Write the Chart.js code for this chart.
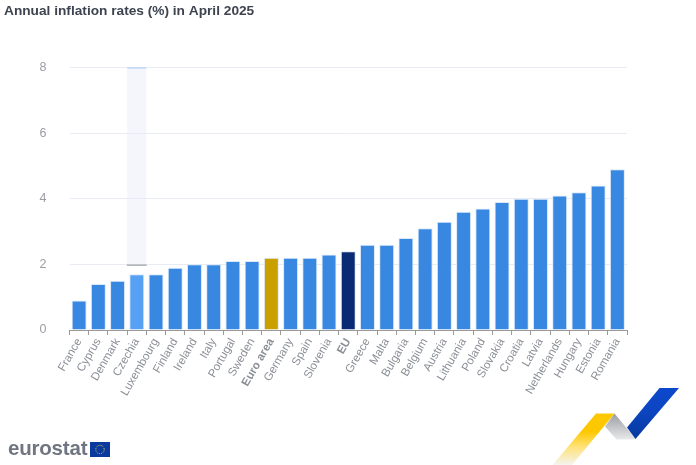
<!DOCTYPE html>
<html>
<head>
<meta charset="utf-8">
<title>Annual inflation rates</title>
<script src="https://cdn.jsdelivr.net/npm/chart.js@4"></script>
<style>
  html, body { margin: 0; padding: 0; background: #fff; overflow: hidden; }
  #wrap { position: relative; width: 696px; height: 465px; filter: blur(0.35px); }
  #wrap canvas { position: absolute; left: 0; top: 0; }
  #brand { position: absolute; left: 8px; top: 434px; font: bold 20.5px "Liberation Sans", sans-serif; letter-spacing: -0.2px; color: #6f7682; line-height: 28px; }
  svg { position: absolute; left: 0; top: 0; }
</style>
</head>
<body>
<div id="wrap">
  <canvas id="chart" width="696" height="465"></canvas>
  <div id="brand">eurostat</div>
  <svg width="696" height="465" viewBox="0 0 696 465">
    <defs>
      <linearGradient id="gold" x1="0" y1="1" x2="0" y2="0">
        <stop offset="0" stop-color="#f4f4f0"/>
        <stop offset="0.35" stop-color="#ffe27a"/>
        <stop offset="0.65" stop-color="#fdc800"/>
        <stop offset="1" stop-color="#fdc800"/>
      </linearGradient>
      <linearGradient id="steel" x1="0" y1="0" x2="0" y2="1">
        <stop offset="0" stop-color="#9a9da3"/>
        <stop offset="1" stop-color="#e8e9ea"/>
      </linearGradient>
      <linearGradient id="blue" x1="0" y1="1" x2="0" y2="0">
        <stop offset="0" stop-color="#053a9c"/>
        <stop offset="0.6" stop-color="#0c46c4"/>
        <stop offset="1" stop-color="#0c48cc"/>
      </linearGradient>
    </defs>
    <polygon points="596,413.5 614.5,413.5 572,465 552.5,465" fill="url(#gold)"/>
    <polygon points="614.5,413.5 636,439.5 616.5,439.5 605,426.5" fill="url(#steel)"/>
    <polygon points="659.5,388 679,388 635.5,439 627,427.5" fill="url(#blue)"/>
    <rect x="90" y="442" width="20" height="15" fill="#0b3a9e"/>
    <circle cx="100" cy="449.5" r="4.2" fill="none" stroke="#e3cf58" stroke-width="1" stroke-dasharray="1 1.2"/>
  </svg>
</div>
<script>
const categories = ["France", "Cyprus", "Denmark", "Czechia", "Luxembourg", "Finland", "Ireland", "Italy", "Portugal", "Sweden", "Euro area", "Germany", "Spain", "Slovenia", "EU", "Greece", "Malta", "Bulgaria", "Belgium", "Austria", "Lithuania", "Poland", "Slovakia", "Croatia", "Latvia", "Netherlands", "Hungary", "Estonia", "Romania"];
const inflation = [0.9, 1.4, 1.5, 1.7, 1.7, 1.9, 2.0, 2.0, 2.1, 2.1, 2.2, 2.2, 2.2, 2.3, 2.4, 2.6, 2.6, 2.8, 3.1, 3.3, 3.6, 3.7, 3.9, 4.0, 4.0, 4.1, 4.2, 4.4, 4.9];
// hover band behind Czechia in the original picture
const hoverBand = categories.map((c) => (c === "Czechia" ? [2, 8] : null));
const hoverEdge = categories.map((c) => (c === "Czechia" ? [1.96, 1.99] : null));
const yTicks = [0, 2, 4, 6, 8];
const boldLabels = ["Euro area", "EU"];

const barColor = (name) => {
  if (name === "Euro area") return "#c9a000";
  if (name === "EU") return "#0a2a73";
  if (name === "Czechia") return "#57a1f4";
  return "#3888e2";
};

const font = "'Liberation Sans', Arial, sans-serif";

new Chart(document.getElementById("chart"), {
  type: "bar",
  data: {
    labels: categories,
    datasets: [
      {
        data: inflation,
        backgroundColor: categories.map(barColor),
        borderColor: "rgba(214, 230, 250, 0.9)",
        borderWidth: 1,
        barPercentage: 0.78,
        categoryPercentage: 1,
        order: 1,
      },
      {
        data: hoverBand,
        backgroundColor: "rgba(230, 236, 248, 0.45)",
        borderColor: "#a6cdf5",
        borderWidth: { top: 1, left: 0, right: 0, bottom: 0 },
        borderSkipped: false,
        barPercentage: 1,
        categoryPercentage: 1,
        order: 2,
      },
      {
        data: hoverEdge,
        backgroundColor: "#b5b7bb",
        barPercentage: 1,
        categoryPercentage: 1,
        order: 2,
      },
    ],
  },
  options: {
    responsive: false,
    animation: false,
    layout: { padding: { left: 4, right: 69, top: 0, bottom: 0 } },
    plugins: {
      legend: { display: false },
      tooltip: { enabled: false },
      title: {
        display: true,
        text: "Annual inflation rates (%) in April 2025",
        align: "start",
        color: "#3d4450",
        font: { family: font, size: 13.7, weight: "bold" },
        padding: { top: 3, bottom: 48 },
      },
    },
    scales: {
      x: {
        offset: true,
        afterFit: (axis) => { axis.height = 135; },
        border: { color: "#9a9a9a", width: 1 },
        grid: { drawOnChartArea: false, drawTicks: true, tickLength: 5, color: "#9a9a9a" },
        ticks: {
          autoSkip: false,
          minRotation: 60,
          maxRotation: 60,
          padding: 1,
          color: "#8b8f96",
          font: (ctx) => ({
            family: font,
            size: 11.5,
            weight: boldLabels.includes(categories[ctx.index]) ? "bold" : "normal",
          }),
        },
      },
      y: {
        min: 0,
        max: 8,
        afterFit: (axis) => { axis.width = 65.5; },
        afterBuildTicks: (axis) => { axis.ticks = yTicks.map((v) => ({ value: v })); },
        border: { display: false },
        grid: { drawTicks: false, color: "#e8ebf3", lineWidth: 1 },
        ticks: {
          padding: 23,
          color: "#9a9da3",
          font: { family: font, size: 12.5 },
        },
      },
    },
    datasets: { bar: { grouped: false } },
  },
});
</script>
</body>
</html>
